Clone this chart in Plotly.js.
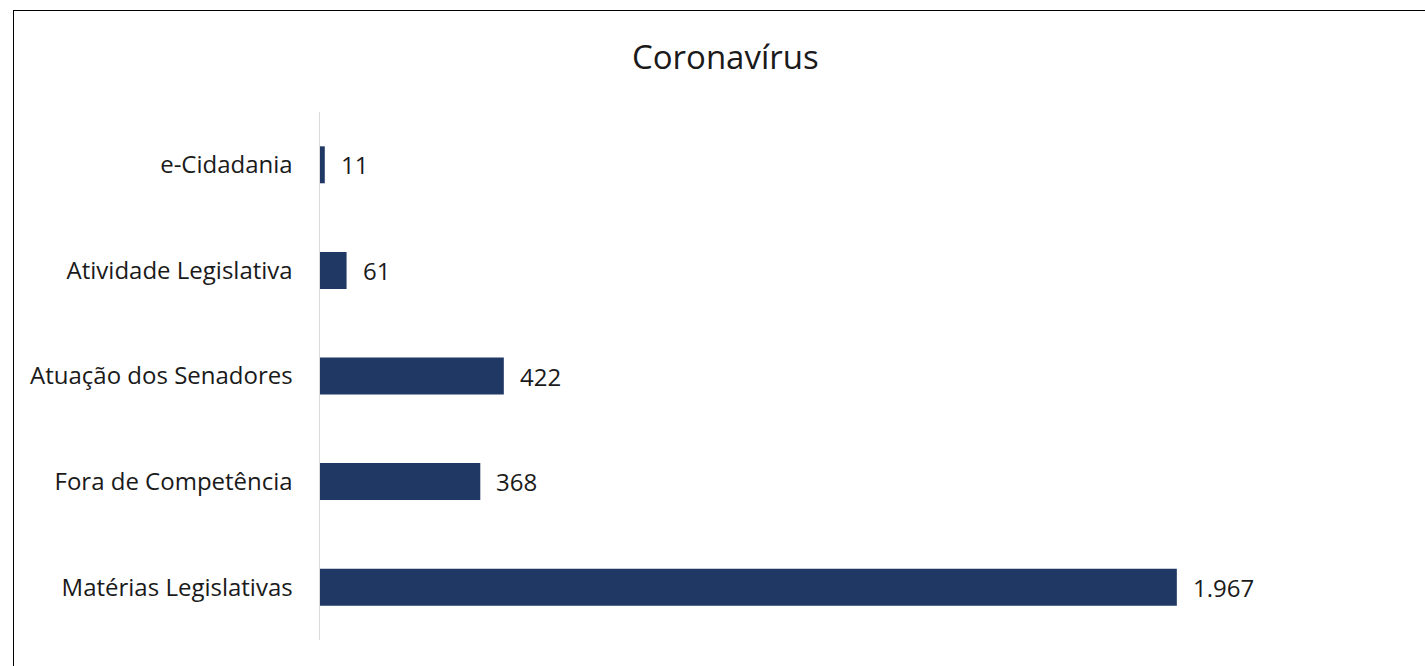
<!DOCTYPE html>
<html>
<head>
<meta charset="utf-8">
<script src="https://cdn.plot.ly/plotly-3.0.1.min.js"></script>
<style>
html,body{margin:0;padding:0;background:#fff;}
#wrap{position:relative;width:1425px;height:666px;overflow:hidden;}
#frame{position:absolute;left:13px;top:10px;width:1420px;height:670px;border:1.5px solid #000;box-sizing:border-box;pointer-events:none;}
#chart{position:absolute;left:0;top:0;width:1425px;height:666px;}
</style>
</head>
<body>
<div id="wrap">
<div id="chart"></div>
<div id="frame"></div>
</div>
<script>
const categories = ["e-Cidadania", "Atividade Legislativa", "Atuação dos Senadores", "Fora de Competência", "Matérias Legislativas"];
const values = [11, 61, 422, 368, 1967];

function fmt(v){ return String(v).replace(/\B(?=(\d{3})+(?!\d))/g, "."); }

const FONT = "'Open Sans', Lato, sans-serif";

const trace = {
  type: "bar",
  orientation: "h",
  y: categories,
  x: values,
  marker: {color: "#203864"},
  hoverinfo: "x+y"
};

const annotations = categories.map((c, i) => ({
  x: values[i], y: c, xref: "x", yref: "y",
  text: fmt(values[i]), showarrow: false,
  xanchor: "left", yanchor: "middle", xshift: 14,
  font: {family: FONT, size: 24, color: "#1a1a1a"}
}));

const layout = {
  width: 1425, height: 666,
  margin: {l: 320, r: 16, t: 112, b: 26},
  paper_bgcolor: "rgba(0,0,0,0)",
  plot_bgcolor: "rgba(0,0,0,0)",
  bargap: 0.65,
  showlegend: false,
  title: {
    text: "Coronavírus",
    x: 0.509, xref: "container", xanchor: "center",
    y: 0.914, yref: "container", yanchor: "middle",
    font: {family: FONT, size: 33, color: "#1a1a1a"}
  },
  xaxis: {
    range: [0, 2500], showgrid: false, zeroline: false, showticklabels: false,
    showline: false, ticks: "", fixedrange: true
  },
  yaxis: {
    autorange: "reversed",
    showgrid: false, zeroline: false,
    showline: true, linecolor: "#d9d9d9", linewidth: 1.5,
    ticks: "", ticklabelstandoff: 21,
    tickfont: {family: FONT, size: 24, color: "#1a1a1a"},
    fixedrange: true
  },
  annotations: annotations
};

Plotly.newPlot("chart", [trace], layout, {displayModeBar: false, staticPlot: true});
</script>
</body>
</html>
